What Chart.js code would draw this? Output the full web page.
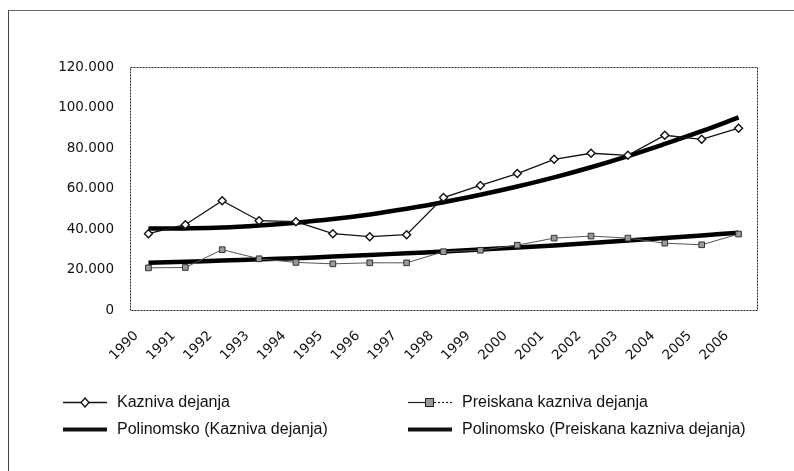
<!DOCTYPE html>
<html>
<head>
<meta charset="utf-8">
<script src="https://cdn.jsdelivr.net/npm/chart.js@4.4.1/dist/chart.umd.min.js"></script>
<style>
  html, body { margin: 0; padding: 0; background: #fff; }
  #wrap { position: relative; width: 794px; height: 471px; overflow: hidden; }
  #frame { position: absolute; left: 8px; top: 10px; right: -10px; bottom: -10px;
           border-left: 1.5px solid #444; border-top: 1.5px solid #666; }
  #chart { position: absolute; left: 0; top: 0; }
  .lg { position: absolute; font-family: "Liberation Sans", Arial, sans-serif; font-size: 16px;
        color: #111; display: flex; align-items: center; white-space: nowrap; }
  .sym { position: relative; width: 44px; height: 12px; margin-right: 10px; }
</style>
</head>
<body>
<div id="wrap">
  <div id="frame"></div>
  <canvas id="chart" width="794" height="471"></canvas>
  <div id="legend"></div>
</div>
<script>
const years = ['1990', '1991', '1992', '1993', '1994', '1995', '1996', '1997', '1998',
               '1999', '2000', '2001', '2002', '2003', '2004', '2005', '2006'];

const kaznivaDejanja   = [37700, 42100, 54000, 44100, 43600, 37700, 36200, 37200, 55500,
                          61500, 67400, 74400, 77400, 76400, 86300, 84300, 89800];
const preiskanaDejanja = [20800, 21000, 29800, 25300, 23500, 22800, 23300, 23300, 28800,
                          29500, 32000, 35500, 36500, 35500, 33000, 32200, 37500];
// polynomial trend lines
const trendKazniva     = [40200, 40300, 40700, 41700, 43100, 44900, 47200, 50000, 53200,
                          56900, 61000, 65500, 70500, 76000, 82000, 88300, 95100];
const trendPreiskana   = [23300, 23800, 24400, 25000, 25600, 26400, 27200, 28000, 28900,
                          29900, 30900, 31900, 33100, 34300, 35500, 36800, 38200];

const seriesLabels = ['Kazniva dejanja', 'Preiskana kazniva dejanja',
                      'Polinomsko (Kazniva dejanja)', 'Polinomsko (Preiskana kazniva dejanja)'];

const yMax = 120000;
const yStep = 20000;

function fmtThousands(v) {
  return String(v).replace(/\B(?=(\d{3})+(?!\d))/g, '.');
}

const plotFrame = {
  id: 'plotFrame',
  afterDraw(chart) {
    const { ctx, chartArea: a } = chart;
    ctx.save();
    ctx.strokeStyle = '#222';
    ctx.lineWidth = 1;
    ctx.setLineDash([2, 1]);
    ctx.strokeRect(a.left + 0.5, a.top + 0.5, a.right - a.left, a.bottom - a.top);
    ctx.restore();
  }
};

const tickFont = { family: '"DejaVu Sans", sans-serif', size: 13.5 };

const chart = new Chart(document.getElementById('chart').getContext('2d'), {
  type: 'line',
  data: {
    labels: years,
    datasets: [
      {
        label: seriesLabels[0],
        data: kaznivaDejanja,
        borderColor: '#111',
        borderWidth: 1.3,
        pointStyle: 'rectRot',
        pointRadius: 4,
        pointBackgroundColor: '#fff',
        pointBorderColor: '#111',
        pointBorderWidth: 1.4,
        order: 0,
      },
      {
        label: seriesLabels[1],
        data: preiskanaDejanja,
        borderColor: '#555',
        borderWidth: 1,
        pointStyle: 'rect',
        pointRadius: 4,
        pointBackgroundColor: '#9a9a9a',
        pointBorderColor: '#333',
        pointBorderWidth: 1,
        order: 0,
      },
      {
        label: seriesLabels[2],
        data: trendKazniva,
        borderColor: '#000',
        borderWidth: 4.5,
        pointRadius: 0,
        tension: 0.4,
        order: 1,
      },
      {
        label: seriesLabels[3],
        data: trendPreiskana,
        borderColor: '#000',
        borderWidth: 4.5,
        pointRadius: 0,
        tension: 0.4,
        order: 1,
      },
    ],
  },
  options: {
    responsive: false,
    animation: false,
    layout: { padding: { left: 0, right: 37, top: 67, bottom: 91 } },
    plugins: { legend: { display: false }, tooltip: { enabled: false } },
    scales: {
      x: {
        offset: true,
        grid: { display: false },
        border: { display: false },
        afterFit: (scale) => { scale.height = 70; },
        ticks: {
          color: '#111',
          font: tickFont,
          minRotation: 45,
          maxRotation: 45,
          autoSkip: false,
          padding: 10,
          labelOffset: -12,
        },
      },
      y: {
        min: 0,
        max: yMax,
        grid: { display: false },
        border: { display: false },
        afterFit: (scale) => { scale.width = 130; },
        ticks: {
          stepSize: yStep,
          color: '#111',
          font: tickFont,
          padding: 8,
          callback: (value) => fmtThousands(value),
        },
      },
    },
  },
  plugins: [plotFrame],
});

// legend in two columns like the original
function buildLegend() {
  const pos = [
    { left: 63, top: 402 }, { left: 408, top: 402 },
    { left: 63, top: 429 }, { left: 408, top: 429 },
  ];
  const holder = document.getElementById('legend');
  seriesLabels.forEach((label, i) => {
    const item = document.createElement('div');
    item.className = 'lg';
    item.style.left = pos[i].left + 'px';
    item.style.top = (pos[i].top - 9) + 'px';
    item.style.height = '18px';
    const sym = document.createElement('canvas');
    sym.width = 44; sym.height = 12;
    sym.className = 'sym';
    const c = sym.getContext('2d');
    if (i === 0) {
      c.strokeStyle = '#111'; c.lineWidth = 1.3;
      c.beginPath(); c.moveTo(0, 6.5); c.lineTo(44, 6.5); c.stroke();
      c.fillStyle = '#fff';
      c.beginPath(); c.moveTo(22, 2); c.lineTo(26, 6.5); c.lineTo(22, 11); c.lineTo(18, 6.5); c.closePath();
      c.fill(); c.stroke();
    } else if (i === 1) {
      c.strokeStyle = '#222'; c.lineWidth = 1.2;
      c.beginPath(); c.moveTo(0, 6.5); c.lineTo(17, 6.5); c.stroke();
      c.setLineDash([2, 2]);
      c.beginPath(); c.moveTo(26, 6.5); c.lineTo(44, 6.5); c.stroke();
      c.setLineDash([]);
      c.fillStyle = '#9a9a9a'; c.lineWidth = 1;
      c.fillRect(17.5, 2.5, 8, 8); c.strokeRect(17.5, 2.5, 8, 8);
    } else {
      c.fillStyle = '#111';
      c.fillRect(0, 4.5, 44, 4);
    }
    const txt = document.createElement('span');
    txt.textContent = label;
    item.appendChild(sym);
    item.appendChild(txt);
    holder.appendChild(item);
  });
}
buildLegend();
</script>
</body>
</html>
